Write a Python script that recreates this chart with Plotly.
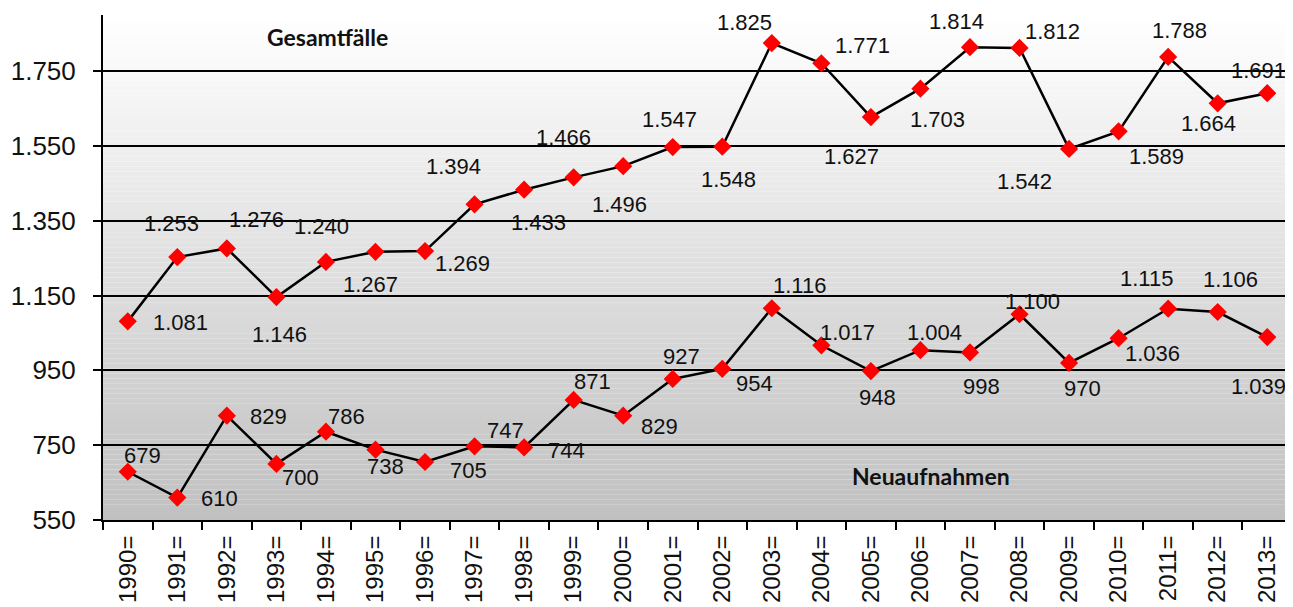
import plotly.graph_objects as go

years = ["1990=", "1991=", "1992=", "1993=", "1994=", "1995=", "1996=", "1997=",
         "1998=", "1999=", "2000=", "2001=", "2002=", "2003=", "2004=", "2005=",
         "2006=", "2007=", "2008=", "2009=", "2010=", "2011=", "2012=", "2013="]
gesamtfaelle = [1081, 1253, 1276, 1146, 1240, 1267, 1269, 1394, 1433, 1466, 1496, 1547,
                1548, 1825, 1771, 1627, 1703, 1814, 1812, 1542, 1589, 1788, 1664, 1691]
neuaufnahmen = [679, 610, 829, 700, 786, 738, 705, 747, 744, 871, 829, 927,
                954, 1116, 1017, 948, 1004, 998, 1100, 970, 1036, 1115, 1106, 1039]
y_ticks = [550, 750, 950, 1150, 1350, 1550, 1750]

# label offsets in screen pixels (dx, dy; dy positive = downwards)
off_g = [(53, 1), (-6, -34), (30, -29), (3, 37), (-4, -35), (-5, 33), (37, 12), (-21, -38),
         (14, 33), (-10, -40), (-4, 38), (-3, -28), (6, 33), (-27, -21), (41, -18), (-19, 39),
         (17, 31), (-13, -26), (33, -16), (-45, 33), (38, 25), (11, -26), (-9, 20), (-9, -23)]
off_n = [(15, -16), (42, 1), (42, 1), (24, 14), (21, -15), (10, 17), (43, 8), (31, -16),
         (42, 3), (19, -18), (36, 11), (9, -22), (32, 15), (28, -23), (26, -13), (7, 26),
         (14, -18), (12, 34), (13, -13), (13, 26), (34, 15), (-22, -30), (13, -33), (-9, 49)]


def de(v):
    return f"{v:,}".replace(",", ".")


FONT = "Arial, Liberation Sans, sans-serif"

fig = go.Figure()
for name, vals in (("Gesamtfälle", gesamtfaelle), ("Neuaufnahmen", neuaufnahmen)):
    fig.add_trace(go.Scatter(
        x=years, y=vals, mode="lines+markers", name=name,
        line=dict(color="#000000", width=2.5),
        marker=dict(symbol="diamond", size=14, color="#ff0000", line=dict(width=0)),
        hoverinfo="skip", showlegend=False))

annotations = []
for vals, offs in ((gesamtfaelle, off_g), (neuaufnahmen, off_n)):
    for x, v, (dx, dy) in zip(years, vals, offs):
        annotations.append(dict(x=x, y=v, xref="x", yref="y", text=de(v), showarrow=False,
                                xshift=dx, yshift=-dy, xanchor="center", yanchor="middle",
                                font=dict(family=FONT, size=22, color="#111111")))

annotations.append(dict(x=0.1884, y=0.9564, xref="paper", yref="paper", text="<b>Gesamtfälle</b>",
                        showarrow=False, xanchor="center", yanchor="middle",
                        font=dict(family="Lato, Open Sans, sans-serif", size=23, color="#111111")))
annotations.append(dict(x=0.6964, y=0.0871, xref="paper", yref="paper", text="<b>Neuaufnahmen</b>",
                        showarrow=False, xanchor="center", yanchor="middle",
                        font=dict(family="Lato, Open Sans, sans-serif", size=23, color="#111111")))

# vertical background gradient (white -> grey) built from thin bands
shapes = []
n = 100
for i in range(n):
    t = (i + 0.5) / n  # 0 bottom, 1 top
    g = int(round(192 + 63 * t))
    shapes.append(dict(type="rect", xref="paper", yref="paper", x0=0, x1=1,
                       y0=i / n, y1=(i + 1) / n, layer="below",
                       fillcolor=f"rgb({g},{g},{g})", line=dict(width=0)))

# the page body adds an 8px offset, so the figure is 8px smaller and margins shifted
fig.update_layout(
    width=1285, height=599,
    margin=dict(l=95, r=1, t=7, b=87, autoexpand=False),
    paper_bgcolor="white", plot_bgcolor="white",
    annotations=annotations, shapes=shapes,
    font=dict(family=FONT, color="#111111"),
)
fig.update_xaxes(
    type="category", categoryorder="array", categoryarray=years,
    range=[-0.5, len(years) - 0.5],
    tickson="boundaries", ticks="outside", ticklen=8, tickwidth=1.5, tickcolor="#000",
    tickangle=-90, tickfont=dict(family=FONT, size=24, color="#111111"),
    showline=True, linecolor="#000", linewidth=2, showgrid=False, automargin=False,
    ticklabelstandoff=4,
)
fig.update_yaxes(
    range=[550, 1900], tickvals=y_ticks, ticktext=[de(v) for v in y_ticks],
    ticks="outside", ticklen=8, tickwidth=1.5, tickcolor="#000",
    tickfont=dict(family=FONT, size=26, color="#111111"),
    showline=True, linecolor="#000", linewidth=2,
    showgrid=True, gridcolor="#000", gridwidth=1.5, zeroline=False, automargin=False,
    ticklabelstandoff=12,
)

fig.write_html("out.html")
